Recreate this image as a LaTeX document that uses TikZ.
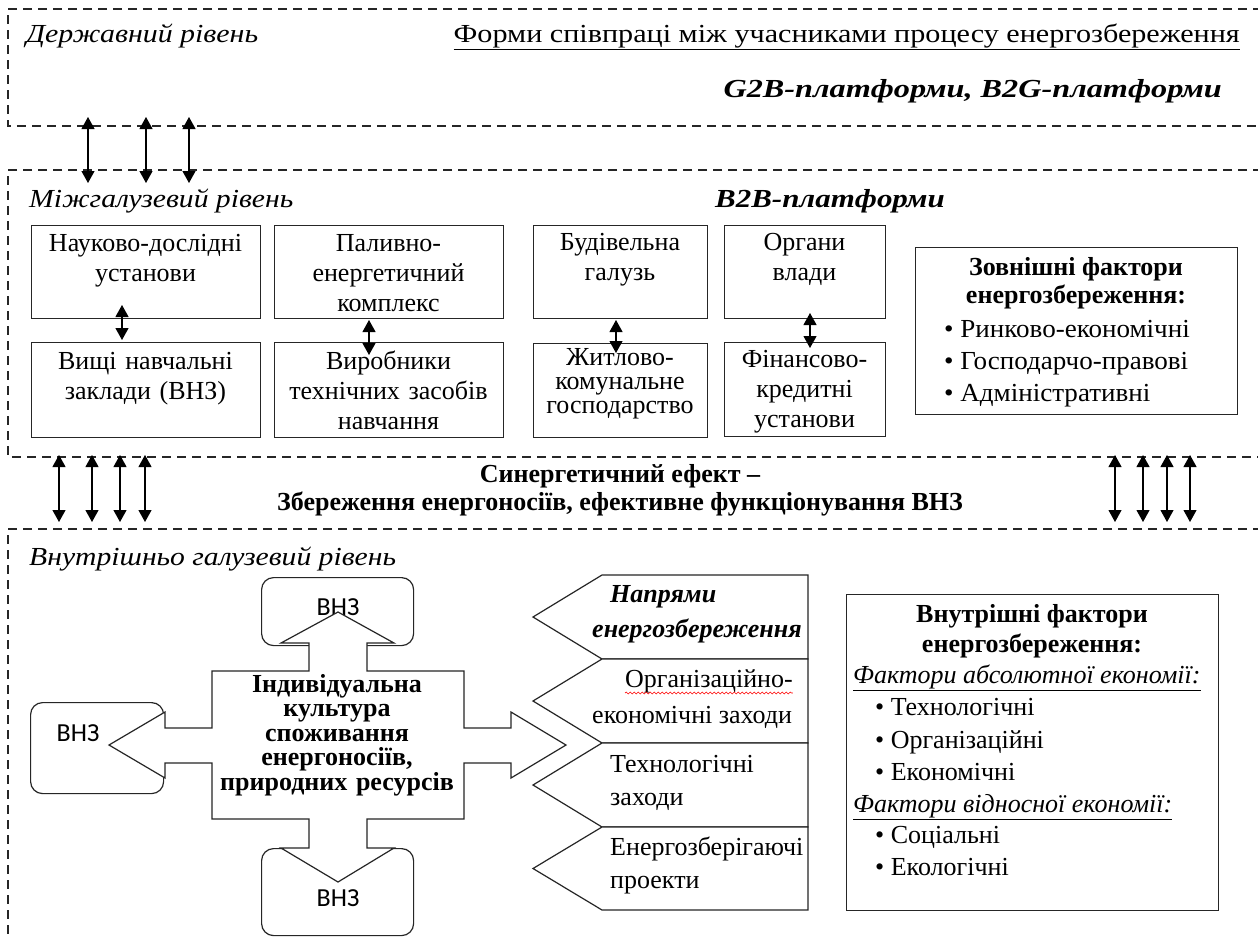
\documentclass[tikz,border=0pt]{standalone}
\usepackage{graphicx}
\usepackage{fontspec}
\setmainfont{Liberation Serif}
\newfontfamily\sansvnz{Carlito}
\usetikzlibrary{arrows.meta,decorations.pathmorphing}
\newcommand\fsz{\fontsize{26}{30}\selectfont}
\begin{document}
\begin{tikzpicture}[x=1pt,y=-1pt,
  dsh/.style={line width=1.3pt, dash pattern=on 9pt off 6pt, draw=black!85},
  bx/.style={draw=black!85, line width=1.2pt, anchor=north west, inner sep=0},
  vbx/.style={bx, rounded corners=12pt},
  txt/.style={font=\fsz, inner sep=0, text=black},
  itl/.style={txt, font=\fsz\itshape},
  bld/.style={txt, font=\fsz\bfseries},
  bit/.style={txt, font=\fsz\bfseries\itshape},
  btxt/.style={txt, anchor=base, align=center},
  vnz/.style={txt, font=\sansvnz\fontsize{26}{30}\selectfont},
  shp/.style={draw=black!85, line width=1.2pt, fill=white, line join=miter},
  dar/.style={line width=1.1pt, draw=black,
    {Triangle[length=12pt,width=13pt]}-{Triangle[length=12pt,width=13pt]}}
]
\useasboundingbox (0,0) rectangle (1258,937);
\fill[white] (0,0) rectangle (1258,937);

% level frames
\draw[dsh] (1262,9) -- (8,9) -- (8,126) -- (1262,126);
\draw[dsh] (1262,170) -- (8,170) -- (8,457) -- (1262,457);
\draw[dsh] (1262,529) -- (8,529) -- (8,940);

% top level texts
\node[itl, anchor=base west] (lvA) at (26,42) {\scalebox{1.15}[1]{Державний рівень}};
\node[txt, anchor=base east] (forms) at (1240,42) {\scalebox{1.16}[1]{\underline{Форми співпраці між учасниками процесу енергозбереження}}};
\node[bit, anchor=base east] (g2b) at (1222,97) {\scalebox{1.24}[1]{G2B-платформи, B2G-платформи}};

% middle level
\node[itl, anchor=base west] (lvB) at (29,207) {\scalebox{1.14}[1]{Міжгалузевий рівень}};
\node[bit, anchor=base west] (b2b) at (715,207) {\scalebox{1.19}[1]{B2B-платформи}};

\node[bx, minimum width=229pt, minimum height=93pt] (nA) at (31,225) {};
\node[bx, minimum width=229pt, minimum height=93pt] (nB) at (274,225) {};
\node[bx, minimum width=174pt, minimum height=93pt] (nC) at (533,225) {};
\node[bx, minimum width=161pt, minimum height=93pt] (nD) at (724,225) {};
\node[bx, minimum width=229pt, minimum height=95pt] (nA2) at (31,342) {};
\node[bx, minimum width=229pt, minimum height=95pt] (nB2) at (274,342) {};
\node[bx, minimum width=174pt, minimum height=94pt] (nC2) at (533,343) {};
\node[bx, minimum width=161pt, minimum height=94pt] (nD2) at (724,342) {};

\node[btxt, text width=225pt] (tA) at (145.5,251) {Науково-дослідні\\установи};
\node[btxt, text width=225pt] (tB) at (388.5,251) {Паливно-\\енергетичний\\комплекс};
\node[btxt, text width=170pt] (tC) at (620,250) {Будівельна\\галузь};
\node[btxt, text width=157pt] (tD) at (804.5,250) {Органи\\влади};
\node[btxt, text width=225pt] (tA2) at (145.5,369) {Вищі навчальні\\заклади (ВНЗ)};
\node[btxt, text width=225pt] (tB2) at (388.5,369) {Виробники\\технічних засобів\\навчання};
\node[btxt, text width=170pt, font=\fontsize{26}{24}\selectfont] (tC2) at (620,365) {Житлово-\\комунальне\\господарство};
\node[btxt, text width=157pt] (tD2) at (804.5,367) {Фінансово-\\кредитні\\установи};

% external factors
\node[bx, minimum width=322pt, minimum height=167pt] (ext) at (915,247) {};
\node[bld, anchor=base] (ext1) at (1076,275) {Зовнішні фактори};
\node[bld, anchor=base] (ext2) at (1076,303) {енергозбереження:};
\node[txt, anchor=base west] (ext3) at (944,337) {\scalebox{1.04}[1]{• Ринково-економічні}};
\node[txt, anchor=base west] (ext4) at (944,369) {\scalebox{1.04}[1]{• Господарчо-правові}};
\node[txt, anchor=base west] (ext5) at (944,401) {\scalebox{1.04}[1]{• Адміністративні}};

% arrows between rows
\coordinate (aA1) at (122,305); \coordinate (aA2) at (122,340);
\coordinate (aB1) at (369,320); \coordinate (aB2) at (369,355);
\coordinate (aC1) at (616,320); \coordinate (aC2) at (616,353);
\coordinate (aD1) at (810,313); \coordinate (aD2) at (810,348);
\draw[dar] (aA1) -- (aA2);
\draw[dar] (aB1) -- (aB2);
\draw[dar] (aC1) -- (aC2);
\draw[dar] (aD1) -- (aD2);

% arrows top - middle
\foreach \i/\xx in {1/88,2/146,3/189}{
  \coordinate (tu\i) at (\xx,117); \coordinate (td\i) at (\xx,183);
  \draw[dar] (tu\i) -- (td\i);
}
% arrows middle - bottom
\foreach \i/\xx in {1/59,2/92,3/120,4/145,5/1115,6/1143,7/1167,8/1190}{
  \coordinate (mu\i) at (\xx,455); \coordinate (md\i) at (\xx,522);
  \draw[dar] (mu\i) -- (md\i);
}

% synergy
\node[bld, anchor=base] (syn1) at (620,482) {Синергетичний ефект –};
\node[bld, anchor=base] (syn2) at (620,510) {Збереження енергоносіїв, ефективне функціонування ВНЗ};

% bottom level
\node[itl, anchor=base west] (lvC) at (29,565) {\scalebox{1.14}[1]{Внутрішньо галузевий рівень}};

% VNZ boxes
\node[vbx, minimum width=152pt, minimum height=68pt] (vT) at (261,577) {};
\node[vbx, minimum width=133pt, minimum height=91pt] (vL) at (30,702) {};
\node[vbx, minimum width=152pt, minimum height=87pt] (vB) at (261,848) {};
\node[vnz] (vTt) at (338,607) {ВНЗ};
\node[vnz] (vLt) at (78,733) {ВНЗ};
\node[vnz] (vBt) at (338,898) {ВНЗ};

% cross-shaped arrow
\draw[shp] (338,612) -- (394,643) -- (367,643) -- (367,671) -- (464,671) -- (464,728)
  -- (511,728) -- (511,712) -- (566,745) -- (511,778) -- (511,763) -- (464,763)
  -- (464,819) -- (367,819) -- (367,848) -- (394,848) -- (338,882) -- (281,848)
  -- (309,848) -- (309,819) -- (212,819) -- (212,763) -- (165,763) -- (165,778)
  -- (109,745) -- (165,712) -- (165,728) -- (212,728) -- (212,671) -- (309,671)
  -- (309,643) -- (281,643) -- cycle;
\node[btxt, text width=250pt, font=\fontsize{26}{24.5}\selectfont\bfseries] (core) at (337,692)
  {Індивідуальна\\культура\\споживання\\енергоносіїв,\\природних ресурсів};

% chevrons
\foreach \t/\b in {575/659,659/743,743/827,827/910}{
  \draw[shp] (808,\t) -- (602,\t) -- (533,{(\t+\b)/2}) -- (602,\b) -- (808,\b) -- cycle;
}
\node[bit, anchor=base west] (c1a) at (610,602) {Напрями};
\node[bit, anchor=base west] (c1b) at (592,637) {енергозбереження};
\node[txt, anchor=base west] (c2a) at (625,687) {Організаційно-};
\node[txt, anchor=base west] (c2b) at (592,723) {економічні заходи};
\node[txt, anchor=base west] (c3a) at (610,772) {Технологічні};
\node[txt, anchor=base west] (c3b) at (610,805) {заходи};
\node[txt, anchor=base west] (c4a) at (610,855) {Енергозберігаючі};
\node[txt, anchor=base west] (c4b) at (610,888) {проекти};
\draw[red, line width=0.6pt, decorate, decoration={snake, amplitude=0.9pt, segment length=4pt}]
  ([yshift=-6pt]c2a.base west) -- ([yshift=-6pt]c2a.base east);

% internal factors
\node[bx, minimum width=372pt, minimum height=316pt] (int) at (846,594) {};
\node[bld, anchor=base] (int1) at (1032,622) {Внутрішні фактори};
\node[bld, anchor=base] (int2) at (1032,652) {енергозбереження:};
\node[itl, anchor=base west] (int3) at (853,683) {\underline{Фактори абсолютної економії:}};
\node[txt, anchor=base west] (int4) at (875,715) {• Технологічні};
\node[txt, anchor=base west] (int5) at (875,748) {• Організаційні};
\node[txt, anchor=base west] (int6) at (875,780) {• Економічні};
\node[itl, anchor=base west] (int7) at (853,812) {\underline{Фактори відносної економії:}};
\node[txt, anchor=base west] (int8) at (875,843) {• Соціальні};
\node[txt, anchor=base west] (int9) at (875,875) {• Екологічні};
\end{tikzpicture}
\end{document}
